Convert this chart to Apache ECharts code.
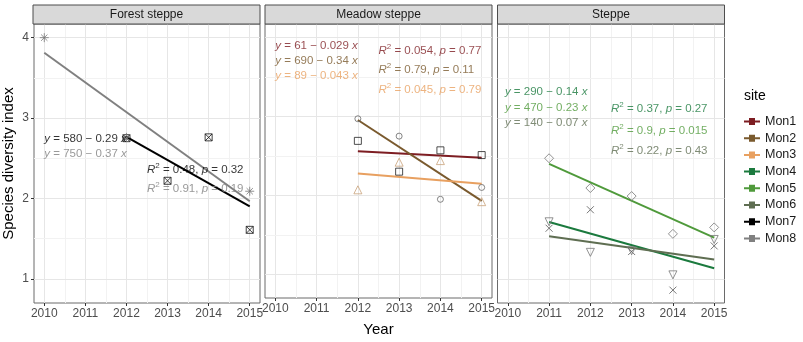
<!DOCTYPE html>
<html>
<head>
<meta charset="utf-8">
<script src="https://cdn.jsdelivr.net/npm/echarts@6/dist/echarts.min.js"></script>
<style>
html, body { margin: 0; padding: 0; background: #fff; }
#main { width: 803px; height: 342px; }
</style>
</head>
<body>
<div id="main"></div>
<script>
// facets and axes
var panelNames = ['Forest steppe', 'Meadow steppe', 'Steppe'];
var yearTicks = [2010, 2011, 2012, 2013, 2014, 2015];
var indexTicks = [1, 2, 3, 4];
var siteNames = ['Mon1', 'Mon2', 'Mon3', 'Mon4', 'Mon5', 'Mon6', 'Mon7', 'Mon8'];

var mon1Years = [2012, 2013, 2014, 2015], mon1Vals = [2.69, 2.30, 2.57, 2.51];
var mon2Years = [2012, 2013, 2014, 2015], mon2Vals = [2.97, 2.75, 1.95, 2.10];
var mon3Years = [2012, 2013, 2014, 2015], mon3Vals = [2.07, 2.42, 2.44, 1.92];
var mon4Years = [2011, 2012, 2013, 2014, 2015], mon4Vals = [1.63, 1.86, 1.34, 0.86, 1.41];
var mon5Years = [2011, 2012, 2013, 2014, 2015], mon5Vals = [2.50, 2.13, 2.03, 1.56, 1.64];
var mon6Years = [2011, 2012, 2013, 2014, 2015], mon6Vals = [1.71, 1.33, 1.35, 1.05, 1.49];
var mon7Years = [2012, 2013, 2014, 2015], mon7Vals = [2.75, 2.22, 2.76, 1.61];
var mon8Years = [2010, 2012, 2015], mon8Vals = [4.00, 2.76, 2.09];

// which facet each site belongs to
var sitePanel = [1, 1, 1, 2, 2, 2, 0, 0];

// fit labels per facet
var eqText = [
  ['y = 580 − 0.29 x', 'y = 750 − 0.37 x'],
  ['y = 61 − 0.029 x', 'y = 690 − 0.34 x', 'y = 89 − 0.043 x'],
  ['y = 290 − 0.14 x', 'y = 470 − 0.23 x', 'y = 140 − 0.07 x']
];
var r2Text = [
  ['0.48', '0.91'],
  ['0.054', '0.79', '0.045'],
  ['0.37', '0.9', '0.22']
];
var pText = [
  ['0.32', '0.19'],
  ['0.77', '0.11', '0.79'],
  ['0.27', '0.015', '0.43']
];
var noteSites = [[6, 7], [0, 1, 2], [3, 4, 5]];

// ---- styling ----
var siteColors = ['#7d1d22', '#7a5a2e', '#e8a060', '#1b7a3e', '#4f9a3b', '#5f6e52', '#000000', '#808080'];
var pointColors = ['#222222', '#666666', '#c9a27a', '#555555', '#777777', '#777777', '#111111', '#777777'];
var symbols = [
  'rect', 'circle', 'triangle',
  'path://M0,0L10,10M10,0L0,10',
  'diamond', 'triangle',
  'path://M0,0H10V10H0ZM0,0L10,10M10,0L0,10',
  'path://M5,0V10M0,5H10M1.5,1.5L8.5,8.5M8.5,1.5L1.5,8.5'
];
var symbolSizes = [7, 6, 8, 7, 9, 8, 7, 9];
var symbolRotates = [0, 0, 0, 0, 0, 180, 0, 0];

var font = 'Liberation Sans, Arial, sans-serif';
var gridLefts = [33, 265, 497.5];
var gridTop = 24, gridW = 227, gridH = 279;
var stripH = 19;

// annotation anchor positions (data coordinates)
var eqX = [2010, 2010, 2009.93];
var eqY = [[2.74, 2.55], [3.89, 3.70, 3.51], [3.33, 3.13, 2.94]];
var r2X = [2012.5, 2012.5, 2012.5];
var r2Y = [[2.36, 2.12], [3.83, 3.59, 3.34], [3.11, 2.84, 2.59]];

var siteYears = [mon1Years, mon2Years, mon3Years, mon4Years, mon5Years, mon6Years, mon7Years, mon8Years];
var siteVals = [mon1Vals, mon2Vals, mon3Vals, mon4Vals, mon5Vals, mon6Vals, mon7Vals, mon8Vals];

function fitLine(xs, ys) {
  var n = xs.length, mx = 0, my = 0;
  for (var i = 0; i < n; i++) { mx += xs[i]; my += ys[i]; }
  mx /= n; my /= n;
  var sxy = 0, sxx = 0;
  for (var j = 0; j < n; j++) { sxy += (xs[j] - mx) * (ys[j] - my); sxx += (xs[j] - mx) * (xs[j] - mx); }
  var b = sxy / sxx, a = my - b * mx;
  var x0 = Math.min.apply(null, xs), x1 = Math.max.apply(null, xs);
  return [[x0, a + b * x0], [x1, a + b * x1]];
}

var grids = [], xAxes = [], yAxes = [], series = [], graphics = [];

for (var p = 0; p < 3; p++) {
  grids.push({ left: gridLefts[p], top: gridTop, width: gridW, height: gridH, show: true,
    borderColor: '#6a6a6a', borderWidth: 1, backgroundColor: '#fff' });
  xAxes.push({
    gridIndex: p, type: 'value', min: 2009.75, max: 2015.25,
    name: p === 1 ? 'Year' : '', nameLocation: 'middle', nameGap: 24,
    nameTextStyle: { fontFamily: font, fontSize: 15, color: '#000' },
    axisLine: { show: false },
    axisTick: { show: true, length: 3, customValues: yearTicks, lineStyle: { color: '#333' } },
    axisLabel: { customValues: yearTicks, margin: 5, fontFamily: font, fontSize: 12, color: '#4d4d4d',
      formatter: function (v) { return String(v); } },
    splitLine: { show: false }
  });
  yAxes.push({
    gridIndex: p, type: 'value', min: 0.7, max: 4.17,
    name: p === 0 ? 'Species diversity index' : '', nameLocation: 'middle', nameGap: 18,
    nameTextStyle: { fontFamily: font, fontSize: 15, color: '#000' },
    axisLine: { show: false },
    axisTick: { show: p === 0, length: 3, customValues: indexTicks, lineStyle: { color: '#333' } },
    axisLabel: { show: p === 0, customValues: indexTicks, margin: 5, fontFamily: font, fontSize: 12, color: '#4d4d4d' },
    splitLine: { show: false }
  });

  // panel grid lines (major and minor)
  var gl = [];
  yearTicks.forEach(function (y) { gl.push({ xAxis: y, lineStyle: { color: '#e6e6e6', width: 1 } }); });
  [2010.5, 2011.5, 2012.5, 2013.5, 2014.5].forEach(function (y) { gl.push({ xAxis: y, lineStyle: { color: '#f2f2f2', width: 1 } }); });
  indexTicks.forEach(function (v) { gl.push({ yAxis: v, lineStyle: { color: '#e6e6e6', width: 1 } }); });
  [1.5, 2.5, 3.5].forEach(function (v) { gl.push({ yAxis: v, lineStyle: { color: '#f2f2f2', width: 1 } }); });
  series.push({
    type: 'line', name: 'grid' + p, xAxisIndex: p, yAxisIndex: p, z: 0,
    data: [[2012, 2]], symbol: 'none', lineStyle: { opacity: 0 }, silent: true, animation: false,
    markLine: { silent: true, symbol: ['none', 'none'], label: { show: false }, z: 0, animation: false,
      lineStyle: { type: 'solid' }, data: gl }
  });

  // facet strip
  graphics.push({ type: 'rect', shape: { x: gridLefts[p], y: gridTop - stripH, width: gridW, height: stripH },
    style: { fill: '#d9d9d9', stroke: '#4d4d4d', lineWidth: 1 }, z: 10 });
  graphics.push({ type: 'text', x: gridLefts[p] + gridW / 2, y: gridTop - stripH / 2,
    style: { text: panelNames[p], fontFamily: font, fontSize: 12, fill: '#1a1a1a', align: 'center', verticalAlign: 'middle' }, z: 11 });
}

// regression lines and points
for (var s = 0; s < 8; s++) {
  var pi = sitePanel[s];
  series.push({
    type: 'line', name: siteNames[s], xAxisIndex: pi, yAxisIndex: pi, z: 3,
    data: fitLine(siteYears[s], siteVals[s]), symbol: 'none', animation: false,
    lineStyle: { color: siteColors[s], width: 2 }, itemStyle: { color: siteColors[s] }
  });
}
for (var t = 0; t < 8; t++) {
  var pj = sitePanel[t];
  series.push({
    type: 'scatter', name: siteNames[t], xAxisIndex: pj, yAxisIndex: pj, z: 4,
    data: siteYears[t].map(function (y, k) { return [y, siteVals[t][k]]; }),
    symbol: symbols[t], symbolSize: symbolSizes[t], symbolRotate: symbolRotates[t], animation: false,
    itemStyle: { color: 'rgba(0,0,0,0)', borderColor: pointColors[t], borderWidth: 1 }
  });
}

// fit annotations
for (var q = 0; q < 3; q++) {
  var notes = [];
  noteSites[q].forEach(function (si, k) {
    var col = siteColors[si];
    var rich = {
      i: { fontStyle: 'italic', color: col, fontFamily: font, fontSize: 11.5 },
      s: { color: col, fontFamily: font, fontSize: 8, padding: [0, 0, 8, 0] },
      n: { color: col, fontFamily: font, fontSize: 11.5 }
    };
    var eq = eqText[q][k].split(' ');
    notes.push({
      value: [eqX[q], eqY[q][k]],
      label: { show: true, position: 'right', distance: 0, rich: rich,
        formatter: '{i|y}{n| = ' + eq[2] + ' − ' + eq[4] + ' }{i|x}' }
    });
    notes.push({
      value: [r2X[q], r2Y[q][k]],
      label: { show: true, position: 'right', distance: 0, rich: rich,
        formatter: '{i|R}{s|2}{n| = ' + r2Text[q][k] + ', }{i|p}{n| = ' + pText[q][k] + '}' }
    });
  });
  series.push({
    type: 'scatter', name: 'notes' + q, xAxisIndex: q, yAxisIndex: q, z: 6, silent: true, animation: false,
    symbolSize: 0, data: notes
  });
}

graphics.push({ type: 'text', x: 744, y: 96,
  style: { text: 'site', fontFamily: font, fontSize: 14, fill: '#000', verticalAlign: 'middle' } });

var chart = echarts.init(document.getElementById('main'), null, { renderer: 'canvas' });
chart.setOption({
  backgroundColor: '#fff',
  animation: false,
  grid: grids,
  xAxis: xAxes,
  yAxis: yAxes,
  legend: {
    orient: 'vertical', left: 739, top: 110, itemGap: 3.7, itemWidth: 16, itemHeight: 12,
    icon: 'path://M0,5H16V7H0Z M5,2.5H11V9.5H5Z',
    textStyle: { fontFamily: font, fontSize: 12.5, color: '#1a1a1a', padding: [0, 0, 0, 0] },
    selectedMode: false,
    data: siteNames.map(function (n, i) { return { name: n, itemStyle: { color: siteColors[i] } }; })
  },
  graphic: graphics,
  series: series
});
</script>
</body>
</html>
